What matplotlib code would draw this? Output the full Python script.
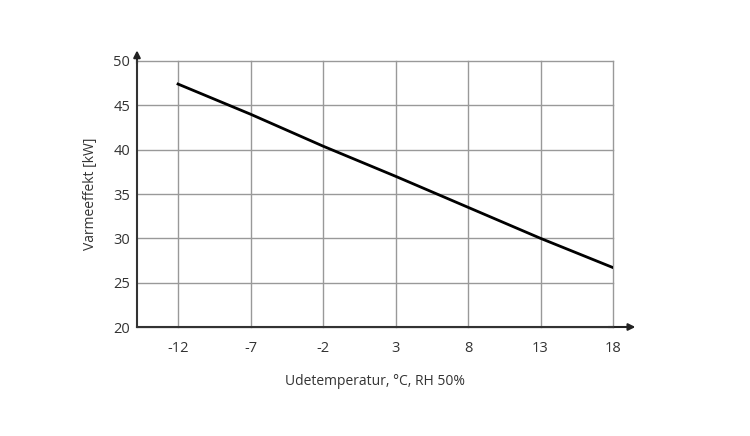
import matplotlib.pyplot as plt

temps = [-12, -7, -2, 3, 8, 13, 18]
power = [47.4, 44.0, 40.4, 37.0, 33.5, 30.0, 26.7]
y_ticks = [20, 25, 30, 35, 40, 45, 50]

plt.rcParams["font.family"] = ["Open Sans", "DejaVu Sans"]

fig = plt.figure(figsize=(7.5, 4.36), dpi=100)
ax = fig.add_axes([137 / 750, 109 / 436, 476 / 750, 266 / 436])

ax.plot(temps, power, color="black", linewidth=2, zorder=3)

ax.set_xlim(-14.83, 18)
ax.set_ylim(20, 50)
ax.set_xticks(temps)
ax.set_xticklabels([str(t) for t in temps])
ax.set_yticks(y_ticks)
ax.grid(True, color="#999999", linewidth=1)
# keep the edge gridlines (x=18, y=50) fully visible
for line in ax.get_xgridlines() + ax.get_ygridlines():
    line.set_clip_on(False)
ax.tick_params(length=0, labelsize=10.5, colors="#333333")
ax.tick_params(axis="x", pad=10)
ax.tick_params(axis="y", pad=5)

for side in ["top", "right"]:
    ax.spines[side].set_visible(False)
for side in ["left", "bottom"]:
    ax.spines[side].set_color("#333333")
    ax.spines[side].set_linewidth(1.5)
    ax.spines[side].set_zorder(4)

# axis arrows
ax.annotate("", xy=(1.047, 0), xycoords="axes fraction", xytext=(0.99, 0),
            arrowprops=dict(arrowstyle="-|>", color="#222222", lw=1.5,
                            mutation_scale=10, shrinkA=0, shrinkB=0),
            annotation_clip=False)
ax.annotate("", xy=(0, 1.04), xycoords="axes fraction", xytext=(0, 0.99),
            arrowprops=dict(arrowstyle="-|>", color="#222222", lw=1.5,
                            mutation_scale=10, shrinkA=0, shrinkB=0),
            annotation_clip=False)

ax.set_xlabel("Udetemperatur, °C, RH 50%", fontsize=10, color="#333333", labelpad=13)
ax.set_ylabel("Varmeeffekt [kW]", fontsize=10, color="#333333", labelpad=11)

fig.savefig("out.png", dpi=100)
